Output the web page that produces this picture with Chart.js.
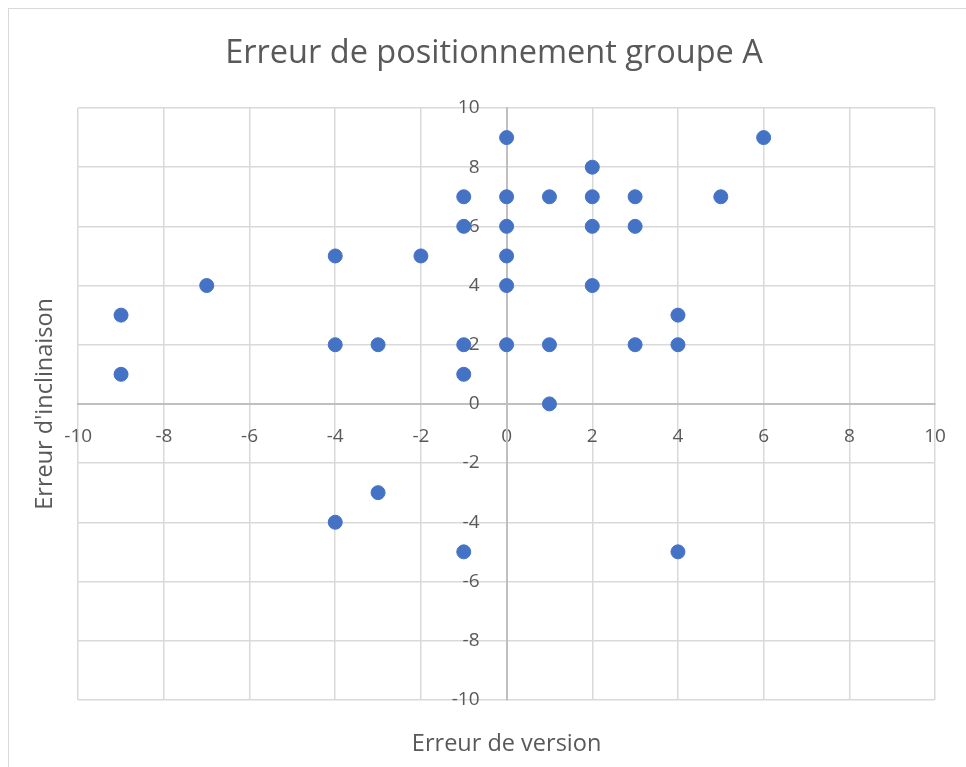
<!DOCTYPE html>
<html>
<head>
<meta charset="utf-8">
<script src="https://cdn.jsdelivr.net/npm/chart.js@4"></script>
<style>
  html, body { margin: 0; padding: 0; background: #fff; overflow: hidden; width: 966px; height: 767px; }
  #frame { position: absolute; left: 8px; top: 8px; width: 972px; height: 780px; border-top: 1px solid #d9d9d9; border-left: 1px solid #d9d9d9; }
  #wrap { position: absolute; left: 8px; top: 8px; width: 972px; height: 759px; }
</style>
</head>
<body>
<div id="frame"></div>
<div id="wrap"><canvas id="errChart"></canvas></div>
<script>
const chartTitle = 'Erreur de positionnement groupe A';
const xTitle = 'Erreur de version';
const yTitle = "Erreur d'inclinaison";

// erreur de version (x) / erreur d'inclinaison (y), one entry per patient
const versionErr =    [0, 6, 2, -1, 0, 1, 2, 3, 5, -1, 0, 2, 3, -4, -2, 0, -7, 0, 2, -9, 4, -4, -3, -1, 0, 1, 3, 4, -9, -1, 1, -3, -4, -1, 4];
const inclinaisonErr = [9, 9, 8, 7, 7, 7, 7, 7, 7, 6, 6, 6, 6, 5, 5, 5, 4, 4, 4, 3, 3, 2, 2, 2, 2, 2, 2, 2, 1, 1, 0, -3, -4, -5, -5];

const axisMin = -10;
const axisMax = 10;
const axisStep = 2;

const textColor = '#595959';
const fontFamily = "'Open Sans', sans-serif";

const points = versionErr.map((v, i) => ({ x: v, y: inclinaisonErr[i] }));

const ctx = document.getElementById('errChart').getContext('2d');
new Chart(ctx, {
    type: 'scatter',
    data: {
        datasets: [{
            label: 'Groupe A',
            data: points,
            backgroundColor: '#4472c4',
            borderColor: '#4472c4',
            borderWidth: 1,
            pointRadius: 7,
            pointHoverRadius: 7
        }]
    },
    options: {
        responsive: true, maintainAspectRatio: false, animation: false,
        // equal side padding keeps the title centred like the original; the y title pulls back with negative padding
        layout: { padding: { left: 45, right: 45, top: 0, bottom: 0 } },
        scales: {
            x: {
                type: 'linear', position: { y: 0 }, min: axisMin, max: axisMax,
                grid: { color: '#d9d9d9', lineWidth: 1.5, drawTicks: false },
                border: { color: '#bfbfbf', width: 2 },
                ticks: { stepSize: axisStep, padding: 21, color: textColor, font: { family: fontFamily, size: 19 } }
            },
            y: {
                // symmetric x range, so 'center' sits on x = 0; tickLength pushes labels off the axis
                type: 'linear', position: 'center', min: axisMin, max: axisMax,
                grid: { color: '#d9d9d9', lineWidth: 1.5, drawTicks: true, tickLength: 24, tickColor: 'rgba(0,0,0,0)' },
                border: { color: '#bfbfbf', width: 2 },
                ticks: { stepSize: axisStep, color: textColor, font: { family: fontFamily, size: 19 } }
            },
            x2: {
                type: 'linear', position: 'bottom', display: true,
                grid: { display: false, drawTicks: false }, border: { display: false }, ticks: { display: false },
                title: { display: true, text: xTitle, color: textColor, font: { family: fontFamily, size: 23.5 }, padding: { top: 30, bottom: 9 } }
            },
            y2: {
                type: 'linear', position: 'left', display: true,
                grid: { display: false, drawTicks: false }, border: { display: false }, ticks: { display: false },
                title: { display: true, text: yTitle, color: textColor, font: { family: fontFamily, size: 23.5 }, padding: { top: -22, bottom: 19 } }
            }
        },
        plugins: {
            legend: { display: false },
            tooltip: { enabled: false },
            title: { display: true, text: chartTitle, color: textColor, font: { family: fontFamily, size: 32.5, weight: 'normal' }, padding: { top: 26, bottom: 35 } }
        }
    }
});
</script>
</body>
</html>
